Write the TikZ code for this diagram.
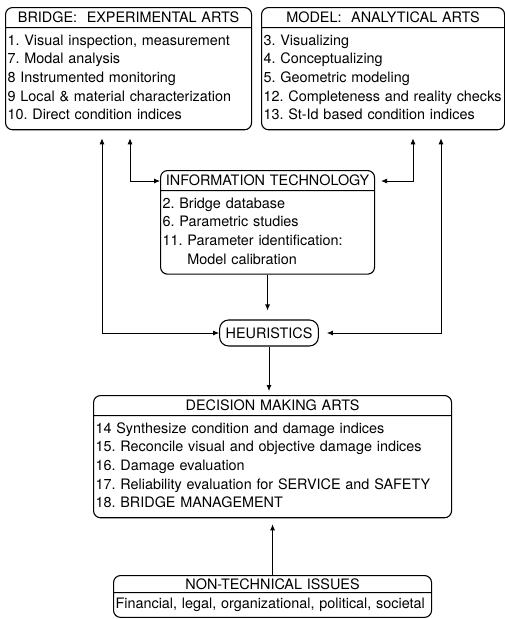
\documentclass[tikz,border=0pt]{standalone}
\usepackage{fontspec}
\setmainfont{TeX Gyre Heros}
\usetikzlibrary{arrows.meta,positioning,calc,shapes.multipart}
\frenchspacing
\newcommand{\headline}[1]{\makebox[\hsize][c]{#1}}

\begin{document}
\begin{tikzpicture}[x=1pt,y=1pt,>={Latex[length=6pt,width=5pt]},font=\fontsize{14.4}{18.6}\selectfont,
  panel/.style={draw,line width=1.1pt,rounded corners=7pt,rectangle split,rectangle split parts=2,anchor=north west,align=left,inner xsep=2pt,inner ysep=4pt},
  tag/.style={draw,line width=1.1pt,rounded corners=9pt,inner xsep=6pt,minimum height=26pt},
  link/.style={line width=.8pt}]
\useasboundingbox (0,0) rectangle (504,-619);
\node[panel,text width=242pt] (bridge) at (5,-7) {\headline{BRIDGE:\ \ EXPERIMENTAL ARTS}\nodepart{two}\strut 1. Visual inspection, measurement\\7. Modal analysis\\8 Instrumented monitoring\\9 Local \& material characterization\\10. Direct condition indices\strut};
\node[panel,text width=239pt] (model) at (261,-7) {\headline{MODEL:\ \ ANALYTICAL ARTS}\nodepart{two}\strut 3. Visualizing\\4. Conceptualizing\\5. Geometric modeling\\12. Completeness and reality checks\\13. St-Id based condition indices\strut};
\node[panel,text width=210pt] (it) at (160,-170) {\headline{INFORMATION TECHNOLOGY}\nodepart{two}\strut 2. Bridge database\\6. Parametric studies\\11. Parameter identification:\\\phantom{11. }Model calibration\strut};
\node[tag] (heur) at (269,-333) {HEURISTICS};
\node[panel,text width=354pt] (decision) at (93,-395) {\headline{DECISION MAKING ARTS}\nodepart{two}\strut 14 Synthesize condition and damage indices\\15. Reconcile visual and objective damage indices\\16. Damage evaluation\\17. Reliability evaluation for SERVICE and SAFETY\\18. BRIDGE MANAGEMENT\strut};
\node[panel,text width=314pt,inner ysep=2.5pt] (nontech) at (113,-575) {\headline{NON-TECHNICAL ISSUES}\nodepart{two}\strut Financial, legal, organizational, political, societal\strut};
% links between the arts
\draw[link,<->,shorten >=8pt] (heur.west) -| ([xshift=97pt]bridge.south west);
\draw[link,<->,shorten >=8pt] ([yshift=-11pt]it.north west) -| ([xshift=125pt]bridge.south west);
\draw[link,<->,shorten <=6pt,shorten >=8pt] ([yshift=-11pt]it.north east) -| ([xshift=152pt]model.south west);
\draw[link,<->,shorten <=8pt,shorten >=8pt] (heur.east) -| ([xshift=180pt]model.south west);
\draw[link,->,shorten >=9pt] (it.south) -- (it.south |- heur.north);
\draw[link,->,shorten >=4pt] (heur.south) -- (heur.south |- decision.north);
\draw[link,->,shorten >=6pt] (nontech.north) -- (nontech.north |- decision.south);
\end{tikzpicture}
\end{document}
